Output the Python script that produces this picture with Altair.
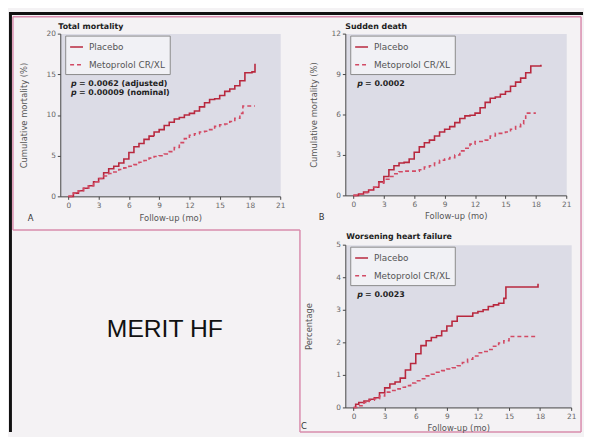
import altair as alt
import pandas as pd

FONT = "DejaVu Sans"
BIG_FONT = "Liberation Sans"
PLACEBO_COLOR = "#b8283e"
METO_COLOR = "#d24a64"
FRAME_COLOR = "#d98cad"
PLOT_FILL = "#dcdce6"
BG = "#f4f2f4"

GROUPS = ["Placebo", "Metoprolol CR/XL"]
X_TICKS = [0, 3, 6, 9, 12, 15, 18, 21]

# ---- Panel A: Total mortality ----
a_pl_t = [0, 0.5, 1, 1.5, 2, 2.5, 3, 3.5, 4, 4.5, 5, 5.5, 6, 6.5, 7, 7.5, 8, 8.5, 9, 9.5,
          10, 10.5, 11, 11.5, 12, 12.5, 13, 13.5, 14, 14.5, 15, 15.5, 16, 16.5, 17, 17.5, 18.2, 18.5]
a_pl_y = [0, 0.4, 0.7, 1.0, 1.3, 1.8, 2.2, 2.9, 3.4, 3.7, 4.1, 4.6, 5.4, 6.1, 6.5, 7.0, 7.4, 7.9, 8.2, 8.7,
          9.1, 9.5, 9.7, 10.0, 10.2, 10.5, 11.0, 11.5, 11.9, 12.0, 12.4, 12.9, 13.2, 13.6, 14.2, 15.2, 15.3, 16.3]
a_me_t = [0, 0.5, 1, 1.5, 2, 2.5, 3, 3.5, 4, 4.5, 5, 5.5, 6, 6.5, 7, 7.5, 8, 8.5, 9, 9.5,
          10, 10.5, 11, 11.5, 12, 12.5, 13, 13.5, 14, 14.5, 15, 15.5, 16, 16.5, 17, 17.3, 18.5]
a_me_y = [0, 0.4, 0.7, 1.0, 1.3, 1.8, 2.2, 2.5, 2.8, 3.0, 3.3, 3.5, 3.7, 3.9, 4.2, 4.4, 4.7, 4.9, 5.0, 5.2,
          5.5, 6.0, 6.6, 7.1, 7.5, 7.7, 7.9, 8.0, 8.2, 8.6, 8.8, 8.9, 9.2, 9.6, 10.2, 11.1, 11.1]

# ---- Panel B: Sudden death ----
b_pl_t = [0, 0.5, 1, 1.5, 2, 2.5, 3, 3.5, 4, 4.5, 5, 5.5, 6, 6.5, 7, 7.5, 8, 8.5, 9, 9.5,
          10, 10.5, 11, 11.5, 12, 12.5, 13, 13.5, 14, 14.5, 15, 15.5, 16, 16.5, 17, 17.5, 18.5]
b_pl_y = [0, 0.1, 0.25, 0.4, 0.6, 1.0, 1.4, 1.9, 2.2, 2.4, 2.45, 2.7, 3.2, 3.6, 3.9, 4.1, 4.4, 4.7, 4.9, 5.1,
          5.4, 5.7, 5.9, 5.95, 6.1, 6.5, 6.9, 7.2, 7.3, 7.5, 7.7, 8.1, 8.4, 8.7, 9.1, 9.6, 9.7]
b_me_t = [0, 0.5, 1, 1.5, 2, 2.5, 3, 3.5, 4, 4.5, 5, 5.5, 6, 6.5, 7, 7.5, 8, 8.5, 9, 9.5,
          10, 10.5, 11, 11.5, 12, 12.5, 13, 13.5, 14, 14.5, 15, 15.5, 16, 16.5, 16.8, 17, 18]
b_me_y = [0, 0.1, 0.2, 0.4, 0.6, 0.9, 1.2, 1.4, 1.6, 1.75, 1.8, 1.8, 1.8, 1.9, 2.1, 2.2, 2.4, 2.6, 2.7, 2.8,
          3.0, 3.3, 3.5, 3.8, 4.0, 4.0, 4.1, 4.4, 4.6, 4.6, 4.7, 4.9, 5.1, 5.3, 5.6, 6.1, 6.1]

# ---- Panel C: Worsening heart failure ----
c_pl_t = [0, 0.2, 0.5, 1, 1.5, 2, 2.5, 3, 3.5, 4, 4.5, 5, 5.5, 6, 6.5, 7, 7.5, 8, 8.5, 9,
          9.5, 10, 11, 11.5, 12, 12.5, 13, 13.5, 14, 14.5, 14.7, 17.7, 17.8]
c_pl_y = [0, 0.1, 0.15, 0.2, 0.25, 0.3, 0.45, 0.6, 0.72, 0.78, 0.9, 1.15, 1.35, 1.65, 1.9, 2.05, 2.15, 2.2, 2.35, 2.5,
          2.65, 2.8, 2.8, 2.9, 2.95, 3.0, 3.1, 3.15, 3.2, 3.35, 3.7, 3.7, 3.8]
c_me_t = [0, 0.5, 1, 1.5, 2, 2.5, 3, 3.5, 4, 4.5, 5, 5.5, 6, 6.5, 7, 7.5, 8, 8.5, 9, 9.5,
          10, 10.5, 11, 11.5, 12, 12.5, 13, 13.5, 14, 14.5, 15, 17.6]
c_me_y = [0, 0.05, 0.15, 0.22, 0.27, 0.35, 0.47, 0.52, 0.57, 0.62, 0.67, 0.75, 0.82, 0.88, 0.97, 1.02, 1.08, 1.13, 1.18, 1.22,
          1.28, 1.38, 1.48, 1.58, 1.68, 1.72, 1.78, 1.88, 1.98, 2.05, 2.18, 2.18]


def curves(pt, py, mt, my):
    return pd.DataFrame({
        "month": pt + mt,
        "value": py + my,
        "group": [GROUPS[0]] * len(pt) + [GROUPS[1]] * len(mt),
    })


ONE = pd.DataFrame({"k": [0]})


def rect(x1, x2, y1, y2, color):
    return alt.Chart(ONE).mark_rect(color=color, strokeWidth=0).encode(
        x=alt.value(x1), x2=alt.value(x2), y=alt.value(y1), y2=alt.value(y2))


def rule(x1, y1, x2, y2, color, width):
    return alt.Chart(ONE).mark_rule(color=color, strokeWidth=width).encode(
        x=alt.value(x1), y=alt.value(y1), x2=alt.value(x2), y2=alt.value(y2))


def label(text, x, y, size, weight="normal", style="normal", color="#333",
          font=FONT, align="left"):
    return alt.Chart(ONE).mark_text(
        text=text, fontSize=size, fontWeight=weight, fontStyle=style, color=color,
        font=font, align=align, baseline="middle").encode(x=alt.value(x), y=alt.value(y))


def ptext(rest, x, y):
    return [label("p", x, y, 8, weight="bold", style="italic", color="#222"),
            label(rest, x + 8, y, 8, weight="bold", color="#222")]


def panel(df, ymax, yticks, ytitle, w, h, title, title_xy, ptexts, letter, letter_xy,
          ytitle_x, xtitle_y, extra=()):
    legend = alt.Legend(
        title=None, orient="none", legendX=5, legendY=2, padding=4,
        fillColor="#f1f1f5", strokeColor="#8a8a8a", labelFont=FONT, labelFontSize=9,
        labelColor="#555", symbolType="stroke", symbolSize=170, symbolStrokeWidth=1.5,
        rowPadding=5, labelOffset=5, labelLimit=200)
    lines = alt.Chart(df).mark_line(interpolate="step-after", strokeWidth=1.6).encode(
        x=alt.X("month:Q", scale=alt.Scale(domain=[-0.8, 21], nice=False, zero=False),
                axis=alt.Axis(values=X_TICKS, title="Follow-up (mo)", titleY=xtitle_y,
                              titleBaseline="middle")),
        y=alt.Y("value:Q", scale=alt.Scale(domain=[0, ymax], nice=False),
                axis=alt.Axis(values=yticks, title=ytitle, titleX=ytitle_x, titleY=h / 2,
                              titleBaseline="middle", titleAlign="center", titleAngle=270)),
        color=alt.Color("group:N", scale=alt.Scale(domain=GROUPS, range=[PLACEBO_COLOR, METO_COLOR]),
                        legend=legend),
        strokeDash=alt.StrokeDash("group:N", scale=alt.Scale(domain=GROUPS, range=[[1, 0], [4, 3]]),
                                  legend=legend),
    )
    layers = [lines,
              label(title, title_xy[0], title_xy[1], 8, weight="bold", color="#222"),
              label(letter, letter_xy[0], letter_xy[1], 8.5, color="#333")]
    layers += ptexts
    layers += list(extra)
    return alt.layer(*layers).properties(
        width=w, height=h, view=alt.ViewBackground(fill=PLOT_FILL, stroke="transparent"))


# outer frame decorations, drawn relative to panel A's plot origin
frame = [
    rect(-52, 530, -22, -19, "#111"),
    rect(-52, -49, -22, 404, "#111"),
    rule(-48, -17, 528, -17, FRAME_COLOR, 1.5),
    rule(528, -17, 528, 404, FRAME_COLOR, 1.5),
    rule(243, 404, 528, 404, FRAME_COLOR, 1.5),
    rule(243, 199, 243, 404, FRAME_COLOR, 1.5),
    rule(-48, 199, 243, 199, FRAME_COLOR, 1.5),
    rule(-48, -17, -48, 199, FRAME_COLOR, 1.5),
]

A = panel(curves(a_pl_t, a_pl_y, a_me_t, a_me_y), 20, [0, 5, 10, 15, 20],
          "Cumulative mortality (%)", 223, 165, "Total mortality", (-2, -7),
          ptext("= 0.0062 (adjusted)", 11, 51.5) + ptext("= 0.00009 (nominal)", 11, 60),
          "A", (-33, 187), -37, 21, extra=frame)

B = panel(curves(b_pl_t, b_pl_y, b_me_t, b_me_y), 12, [0, 3, 6, 9, 12],
          "Cumulative mortality (%)", 224, 164, "Sudden death", (0, -7),
          ptext("= 0.0002", 12, 51), "B", (-27, 186), -32, 20)

C = panel(curves(c_pl_t, c_pl_y, c_me_t, c_me_y), 5, [0, 1, 2, 3, 4, 5],
          "Percentage", 229, 165, "Worsening heart failure", (1, -8),
          ptext("= 0.0023", 12, 51), "C", (-45, 184), -37, 20)

M = label("MERIT HF", 106, 86, 25, font=BIG_FONT, color="#111", align="center").properties(
    width=223, height=165, view=alt.ViewBackground(fill="transparent", stroke="transparent"))

indep = dict(color="independent", strokeDash="independent")

chart = alt.concat(A, B, M, C, columns=2, spacing={"row": 49, "column": 66}, bounds="flush").resolve_scale(
    **indep).resolve_legend(**indep).properties(
    padding=0, background=BG
).configure_axis(
    labelFont=FONT, labelFontSize=7.5, labelColor="#666", titleFont=FONT, titleFontSize=8.5,
    titleFontWeight="normal", titleColor="#555", domainColor="#444", tickColor="#444",
    tickSize=3, grid=False, labelPadding=2, labelFlush=False, labelOverlap=False
)

chart.save("out.html", embed_options={"renderer": "svg", "actions": False})
